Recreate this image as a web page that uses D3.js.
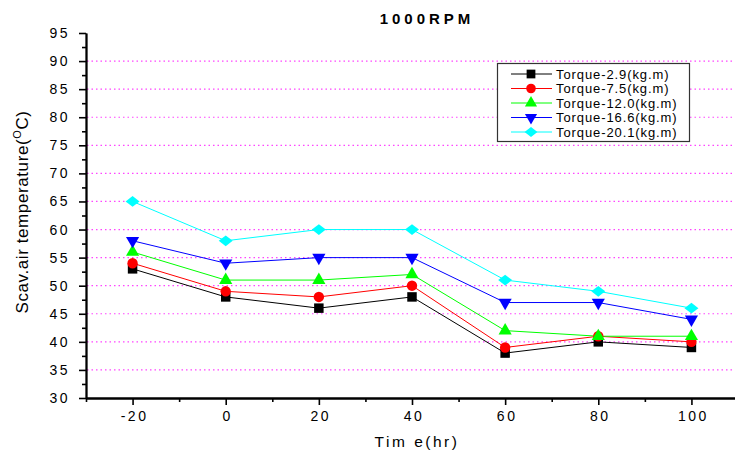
<!DOCTYPE html>
<html><head><meta charset="utf-8">
<script src="https://cdn.jsdelivr.net/npm/d3@7"></script>
<style>body{margin:0;background:#fff}text{font-family:"Liberation Sans",Arial,sans-serif}</style>
</head><body><svg id="c" width="735" height="455"></svg>
<script>
const times = [-20, 0, 20, 40, 60, 80, 100];
const torque29 = [53, 48, 46, 48, 38, 40, 39];
const torque75 = [54, 49, 48, 50, 39, 41, 40];
const torque120 = [56, 51, 51, 52, 42, 41, 41];
const torque166 = [58, 54, 55, 55, 47, 47, 44];
const torque201 = [65, 58, 60, 60, 51, 49, 46];
const seriesNames = ["Torque-2.9(kg.m)", "Torque-7.5(kg.m)", "Torque-12.0(kg.m)", "Torque-16.6(kg.m)", "Torque-20.1(kg.m)"];
const xTicks = [-20, 0, 20, 40, 60, 80, 100];
const yTicks = [30, 35, 40, 45, 50, 55, 60, 65, 70, 75, 80, 85, 90, 95];

const wideDiamond = {
  draw(ctx, size) {
    const h = Math.sqrt(size / 1.3) / 2 * 1.0;
    const w = h * 1.3;
    ctx.moveTo(0, -h); ctx.lineTo(w, 0); ctx.lineTo(0, h); ctx.lineTo(-w, 0); ctx.closePath();
  }
};

const series = [
  {name: seriesNames[0], vals: torque29, color: "#000000", sym: d3.symbolSquare, size: 90, rot: 0},
  {name: seriesNames[1], vals: torque75, color: "#ff0000", sym: d3.symbolCircle, size: 85, rot: 0},
  {name: seriesNames[2], vals: torque120, color: "#00ff00", sym: d3.symbolTriangle, size: 75, rot: 0},
  {name: seriesNames[3], vals: torque166, color: "#0000ff", sym: d3.symbolTriangle, size: 75, rot: 180},
  {name: seriesNames[4], vals: torque201, color: "#00ffff", sym: wideDiamond, size: 150, rot: 0}
];

const svg = d3.select("#c");
const x = d3.scaleLinear().domain([-30, 110]).range([86, 738]);
const y = d3.scaleLinear().domain([30, 95]).range([398, 33]);

// grid
svg.append("g").selectAll("line").data(yTicks.filter(v => v > 30 && v < 95)).join("line")
  .attr("x1", 87).attr("x2", 735).attr("y1", d => y(d)).attr("y2", d => y(d))
  .attr("stroke", "#ff44ff").attr("stroke-width", 1.2).attr("stroke-dasharray", "1.5,3");

// axes
const fmt = d => String(d);
const xAxis = svg.append("g").attr("transform", `translate(0,${y(30)})`)
  .call(d3.axisBottom(x).tickValues(xTicks).tickFormat(fmt).tickSize(7).tickPadding(6).tickSizeOuter(0));
const xMinor = svg.append("g").attr("transform", `translate(0,${y(30)})`)
  .call(d3.axisBottom(x).tickValues(d3.range(-30, 111, 10).filter(v => !xTicks.includes(v))).tickSize(4).tickFormat("").tickSizeOuter(0));
const yAxis = svg.append("g").attr("transform", `translate(${x(-30)},0)`)
  .call(d3.axisLeft(y).tickValues(yTicks).tickFormat(fmt).tickSize(7).tickPadding(9).tickSizeOuter(0));
const yMinor = svg.append("g").attr("transform", `translate(${x(-30)},0)`)
  .call(d3.axisLeft(y).tickValues(d3.range(32.5, 95, 5)).tickSize(4).tickFormat("").tickSizeOuter(0));
[xAxis, xMinor, yAxis, yMinor].forEach(g => {
  g.select(".domain").attr("stroke", "#000").attr("stroke-width", 1.8);
  g.selectAll(".tick line").attr("stroke", "#000").attr("stroke-width", 1.6);
  g.selectAll("text").attr("fill", "#000").style("font-size", "14px").style("letter-spacing", "2.5px")
   .style("font-family", '"Liberation Sans",Arial,sans-serif');
});
xAxis.selectAll("text").attr("dx", "1.5px");

// lines and markers
const line = d3.line().x((d, i) => x(times[i])).y(d => y(d));
series.forEach(s => {
  svg.append("path").datum(s.vals).attr("d", line).attr("fill", "none")
    .attr("stroke", s.color).attr("stroke-width", 1);
});
series.forEach(s => {
  svg.append("g").selectAll("path").data(s.vals).join("path")
    .attr("d", d3.symbol().type(s.sym).size(s.size))
    .attr("transform", (d, i) => `translate(${x(times[i])},${y(d)}) rotate(${s.rot})`)
    .attr("fill", s.color);
});

// title
svg.append("text").attr("x", 427).attr("y", 24).attr("text-anchor", "middle")
  .style("font-size", "15px").style("font-weight", "bold").style("letter-spacing", "4px").text("1000RPM");

// x label
svg.append("text").attr("x", 417).attr("y", 447).attr("text-anchor", "middle")
  .style("font-size", "15.5px").style("letter-spacing", "2.5px").text("Tim e(hr)");

// y label
const yl = svg.append("text").attr("transform", "translate(28,212) rotate(-90)").attr("text-anchor", "middle")
  .style("font-size", "17px").style("letter-spacing", "0.6px");
yl.append("tspan").text("Scav.air temperature(");
yl.append("tspan").attr("dy", "-7").style("font-size", "11px").text("O");
yl.append("tspan").attr("dy", "7").text("C)");

// legend
const lg = svg.append("g");
lg.append("rect").attr("x", 497.5).attr("y", 63.5).attr("width", 192).attr("height", 78)
  .attr("fill", "#fff").attr("stroke", "#333").attr("stroke-width", 1.2);
series.forEach((s, i) => {
  const yy = 74 + i * 14.5;
  lg.append("line").attr("x1", 511).attr("x2", 552).attr("y1", yy).attr("y2", yy).attr("stroke", s.color).attr("stroke-width", 1);
  lg.append("path").attr("d", d3.symbol().type(s.sym).size(s.size * 0.85))
    .attr("transform", `translate(531,${yy}) rotate(${s.rot})`).attr("fill", s.color);
  lg.append("text").attr("x", 556).attr("y", yy + 4.5).style("font-size", "13px").style("letter-spacing", "0.9px").text(s.name);
});
</script></body></html>
